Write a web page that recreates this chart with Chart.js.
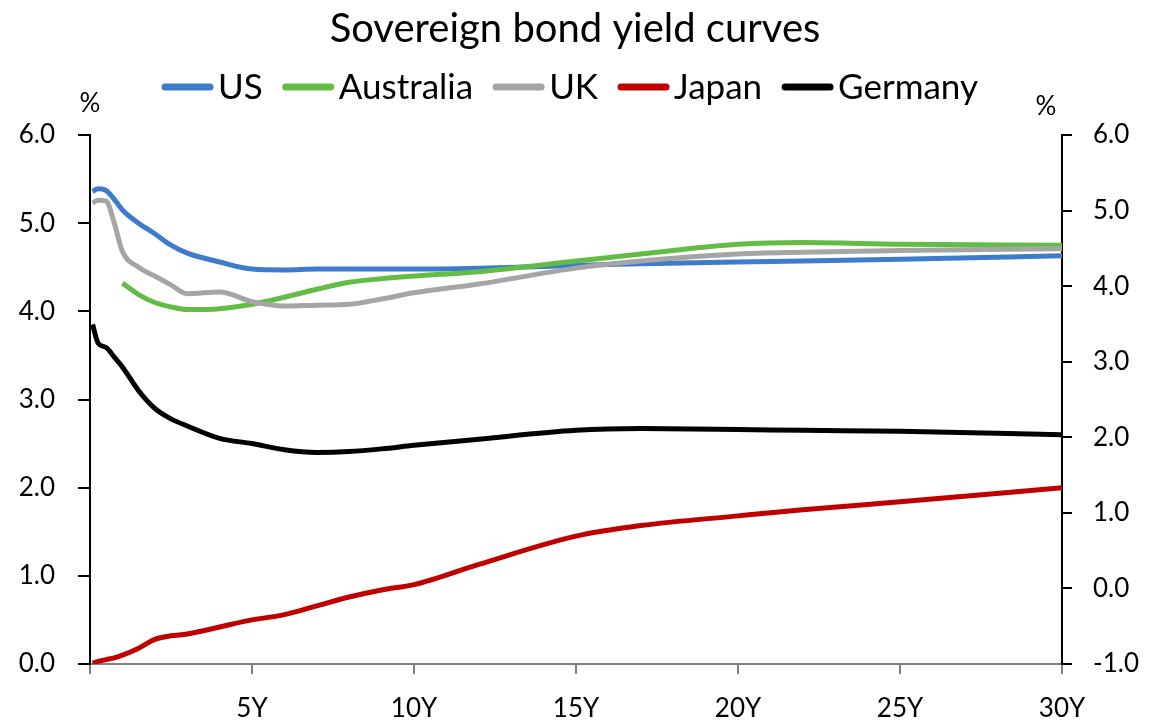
<!DOCTYPE html>
<html>
<head>
<meta charset="utf-8">
<script src="https://cdn.jsdelivr.net/npm/chart.js@4"></script>
<style>
  body { margin: 0; background: #fff; }
  #wrap { width: 1150px; height: 720px; }
</style>
</head>
<body>
<div id="wrap"><canvas id="chartYields"></canvas></div>
<script>
// tenors in years
const tenors = [0.08, 0.25, 0.5, 0.75, 1, 1.5, 2, 2.5, 3, 4, 5, 6, 7, 8, 9, 10, 12, 15, 17, 20, 22, 25, 30];

const usYields = [5.36, 5.39, 5.37, 5.27, 5.15, 5.0, 4.88, 4.75, 4.66, 4.56, 4.48, 4.47, 4.48, 4.48, 4.48, 4.48, 4.49, 4.52, 4.54, 4.56, 4.57, 4.59, 4.63];
const auYields = [null, null, null, null, 4.32, 4.19, 4.1, 4.05, 4.02, 4.03, 4.08, 4.16, 4.25, 4.33, 4.37, 4.4, 4.45, 4.57, 4.65, 4.76, 4.78, 4.76, 4.75];
const ukYields = [5.23, 5.26, 5.25, 5.0, 4.68, 4.5, 4.4, 4.3, 4.2, 4.22, 4.11, 4.06, 4.07, 4.08, 4.14, 4.21, 4.31, 4.49, 4.57, 4.65, 4.67, 4.69, 4.71];
const jpYields = [0.01, 0.03, 0.05, 0.07, 0.1, 0.18, 0.28, 0.32, 0.34, 0.42, 0.5, 0.56, 0.66, 0.76, 0.84, 0.9, 1.13, 1.45, 1.57, 1.68, 1.75, 1.84, 2.0];
const deYields = [3.85, 3.64, 3.59, 3.48, 3.37, 3.1, 2.9, 2.78, 2.7, 2.56, 2.5, 2.43, 2.4, 2.41, 2.44, 2.48, 2.55, 2.65, 2.67, 2.66, 2.65, 2.64, 2.6];

const seriesNames = ["US", "Australia", "UK", "Japan", "Germany"];
const seriesColors = ["#3F7BCB", "#62BC46", "#A5A5A5", "#C00000", "#000000"];
const seriesValues = [usYields, auYields, ukYields, jpYields, deYields];

const FONT = "Lato";

const toPoints = (vals) => tenors.map((t, i) => ({ x: t, y: vals[i] }));

// legend drawn as in the original: short thick line + label
const legendAndUnits = {
  id: "legendAndUnits",
  afterDraw(chart) {
    const ctx = chart.ctx;
    ctx.save();
    ctx.font = "35px " + FONT;
    ctx.textBaseline = "middle";
    const sw = 51, gapText = 5, gapItem = 20;
    const widths = seriesNames.map((n) => sw + gapText + ctx.measureText(n).width);
    const total = widths.reduce((a, b) => a + b, 0) + gapItem * (widths.length - 1);
    let x = 570 - total / 2;
    const y = 87;
    seriesNames.forEach((n, i) => {
      ctx.strokeStyle = seriesColors[i];
      ctx.lineWidth = 7;
      ctx.lineCap = "round";
      ctx.beginPath();
      ctx.moveTo(x + 3, y);
      ctx.lineTo(x + sw - 3, y);
      ctx.stroke();
      ctx.fillStyle = "#000";
      ctx.textAlign = "left";
      ctx.fillText(n, x + sw + gapText, y + 1);
      x += widths[i] + gapItem;
    });
    ctx.font = "26px " + FONT;
    ctx.textAlign = "center";
    ctx.fillText("%", 90, 104);
    ctx.fillText("%", 1046, 107);
    ctx.restore();
  },
};

const tickFont = { family: FONT, size: 26 };

new Chart(document.getElementById("chartYields"), {
  type: "line",
  data: {
    datasets: seriesNames.map((name, i) => ({
      label: name,
      data: toPoints(seriesValues[i]),
      borderColor: seriesColors[i],
      backgroundColor: seriesColors[i],
      borderWidth: 5,
      pointRadius: 0,
      cubicInterpolationMode: "monotone",
      order: seriesNames.length - i,
      yAxisID: "y",
    })),
  },
  options: {
    responsive: true,
    maintainAspectRatio: false,
    animation: false,
    layout: { padding: { top: 0, left: 0, right: 0, bottom: 0 } },
    plugins: {
      legend: { display: false },
      tooltip: { enabled: false },
      title: {
        display: true,
        text: "Sovereign bond yield curves",
        color: "#000",
        font: { family: FONT, size: 40, weight: "normal" },
        padding: { top: 5, bottom: 82 },
      },
    },
    scales: {
      x: {
        type: "linear",
        min: 0,
        max: 30,
        ticks: {
          stepSize: 5,
          color: "#000",
          font: tickFont,
          padding: 19,
          maxRotation: 0,
          callback: (v) => (v === 0 ? "" : v + "Y"),
        },
        grid: { drawOnChartArea: false, tickLength: 10, color: "#808080", lineWidth: 2 },
        border: { color: "#808080", width: 2 },
        afterFit: (s) => { s.height = 56; },
      },
      y: {
        position: "left",
        min: 0,
        max: 6,
        ticks: { stepSize: 1, color: "#000", font: tickFont, padding: 23, callback: (v) => v.toFixed(1) },
        grid: { drawOnChartArea: false, tickLength: 12, color: "#000", lineWidth: 2 },
        border: { color: "#000", width: 2 },
        afterFit: (s) => { s.width = 90; },
      },
      y2: {
        position: "right",
        min: -1,
        max: 6,
        ticks: { stepSize: 1, color: "#000", font: tickFont, padding: 21, callback: (v) => v.toFixed(1) },
        grid: { drawOnChartArea: false, tickLength: 10, color: "#000", lineWidth: 2 },
        border: { color: "#000", width: 2 },
        afterFit: (s) => { s.width = 88; },
      },
    },
  },
  plugins: [legendAndUnits],
});
</script>
</body>
</html>
